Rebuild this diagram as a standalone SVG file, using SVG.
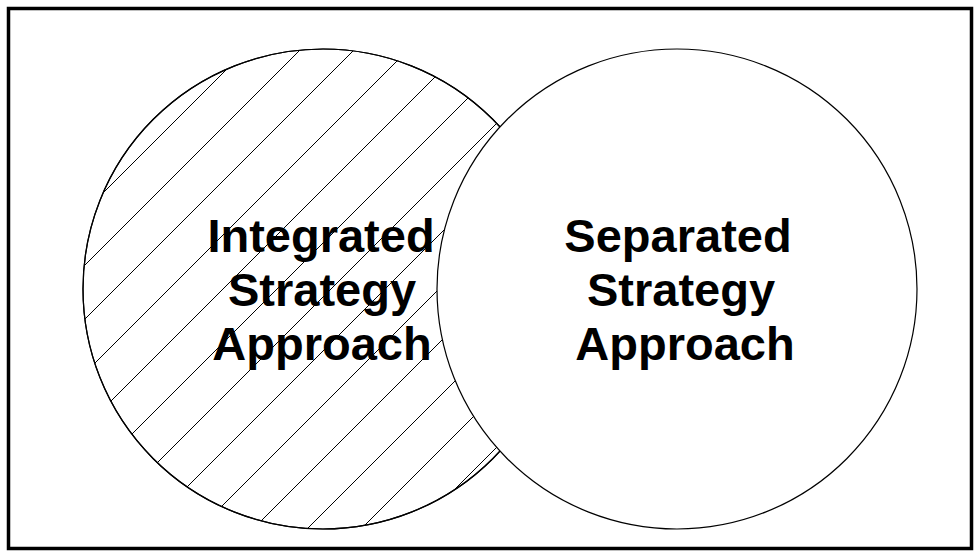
<svg xmlns="http://www.w3.org/2000/svg" width="980" height="555" viewBox="0 0 980 555">
  <style>
    .ring { stroke: #000; stroke-width: 1.2; }
    .hatch line { stroke: #000; stroke-width: 1; }
    .label { font-family: "Liberation Sans", Arial, sans-serif; font-weight: bold; font-size: 47px; fill: #000; text-anchor: middle; }
  </style>
  <defs>
    <clipPath id="leftClip">
      <circle cx="323" cy="289" r="240"/>
    </clipPath>
  </defs>

  <rect width="980" height="555" fill="#fff"/>
  <!-- frame -->
  <rect x="8.5" y="8.5" width="963" height="540" fill="none" stroke="#000" stroke-width="3.5"/>

  <!-- left set: hatched -->
  <g id="integrated">
    <circle class="ring" cx="323" cy="289" r="240" fill="#fff"/>
    <text class="label" x="321" y="252">Integrated</text>
    <text class="label" x="322" y="306">Strategy</text>
    <text class="label" x="322" y="360">Approach</text>
    <g class="hatch" clip-path="url(#leftClip)">
      <line x1="-304" y1="600" x2="296" y2="0"/>
      <line x1="-250" y1="600" x2="350" y2="0"/>
      <line x1="-196" y1="600" x2="404" y2="0"/>
      <line x1="-142" y1="600" x2="458" y2="0"/>
      <line x1="-88" y1="600" x2="512" y2="0"/>
      <line x1="-34" y1="600" x2="566" y2="0"/>
      <line x1="20" y1="600" x2="620" y2="0"/>
      <line x1="74" y1="600" x2="674" y2="0"/>
      <line x1="128" y1="600" x2="728" y2="0"/>
      <line x1="182" y1="600" x2="782" y2="0"/>
      <line x1="236" y1="600" x2="836" y2="0"/>
      <line x1="290" y1="600" x2="890" y2="0"/>
      <line x1="344" y1="600" x2="944" y2="0"/>
    </g>
    <circle class="ring" cx="323" cy="289" r="240" fill="none"/>
  </g>

  <!-- right set: plain, drawn over the overlap -->
  <g id="separated">
    <circle class="ring" cx="677" cy="289" r="240" fill="#fff"/>
    <text class="label" x="678" y="252">Separated</text>
    <text class="label" x="681" y="306">Strategy</text>
    <text class="label" x="685" y="360">Approach</text>
  </g>

  <g id="connectors"/>
</svg>
